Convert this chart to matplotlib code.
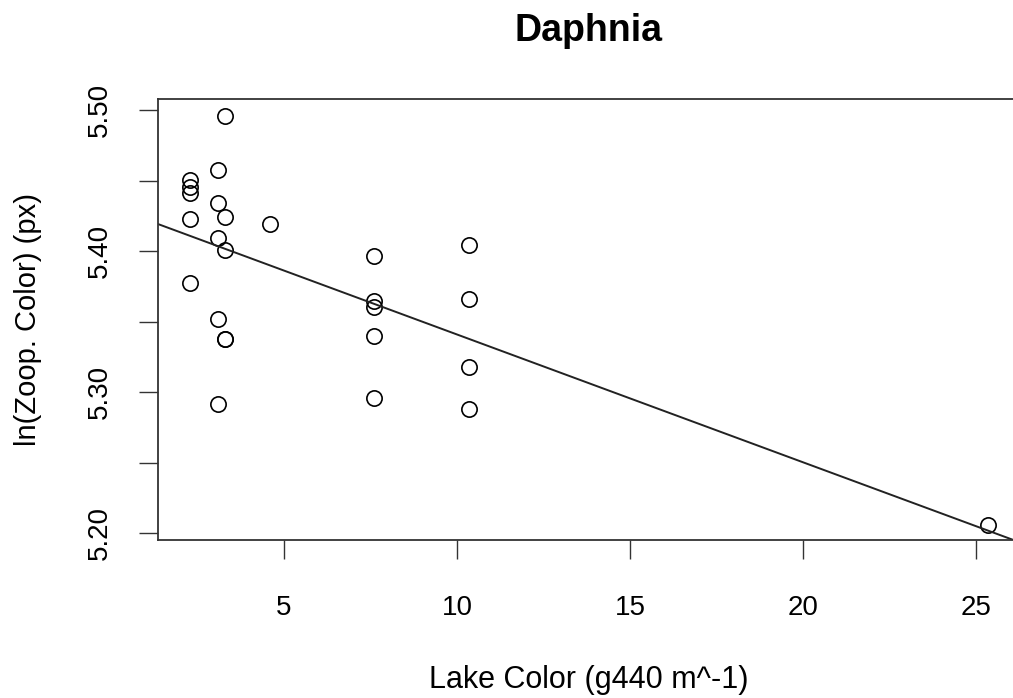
import numpy as np
import matplotlib
matplotlib.use("Agg")
import matplotlib.pyplot as plt

plt.rcParams["font.family"] = ["Liberation Sans", "DejaVu Sans"]

# lake colour (g440 m^-1) and ln(zooplankton colour)
lake_color = [2.28, 2.28, 2.28, 2.28, 2.28,
              3.08, 3.08, 3.08, 3.08, 3.08,
              3.29, 3.29, 3.29, 3.29, 3.29,
              4.60,
              7.60, 7.60, 7.60, 7.60, 7.60,
              10.36, 10.36, 10.36, 10.36,
              25.35]
zoop_color = [5.4504, 5.4456, 5.4410, 5.4225, 5.3776,
              5.4575, 5.4339, 5.4091, 5.3517, 5.2916,
              5.4960, 5.4244, 5.4008, 5.3380, 5.3375,
              5.4192,
              5.3967, 5.3648, 5.3604, 5.3400, 5.2957,
              5.4043, 5.3661, 5.3181, 5.2879,
              5.2059]

x_ticks = [5, 10, 15, 20, 25]
y_ticks = [5.20, 5.25, 5.30, 5.35, 5.40, 5.45, 5.50]
y_labels = ["5.20", "", "5.30", "", "5.40", "", "5.50"]

# least squares fit, like abline(lm(y ~ x)) in R
slope, intercept = np.polyfit(lake_color, zoop_color, 1)

W, H = 1013, 698
fig = plt.figure(figsize=(W / 100, H / 100), dpi=100)
ax = fig.add_axes([157.5 / W, (H - 540) / H, (1019 - 157.5) / W, (540 - 99.3) / H])

ax.plot(lake_color, zoop_color, "o", mfc="none", mec="black", ms=11, mew=1.2)
ax.axline((0, intercept), slope=slope, color="#222222", lw=1.4)

ax.set_xlim(1.344, 26.24)
ax.set_ylim(5.1953, 5.5076)

ax.set_xticks(x_ticks)
ax.set_yticks(y_ticks)
ax.set_yticklabels(y_labels, rotation=90, va="center")
ax.tick_params(axis="both", direction="out", length=13.5, width=1.0,
               color="#333333", labelsize=20)
ax.tick_params(axis="x", pad=26)
ax.tick_params(axis="y", pad=19)

for s in ax.spines.values():
    s.set_linewidth(1.3)
    s.set_color("#333333")

ax.set_title("Daphnia", fontsize=27, fontweight="bold", pad=42)
ax.set_xlabel("Lake Color (g440 m^-1)", fontsize=22, labelpad=32)
ax.set_ylabel("ln(Zoop. Color) (px)", fontsize=21, labelpad=32)

fig.savefig("out.png", dpi=100)
